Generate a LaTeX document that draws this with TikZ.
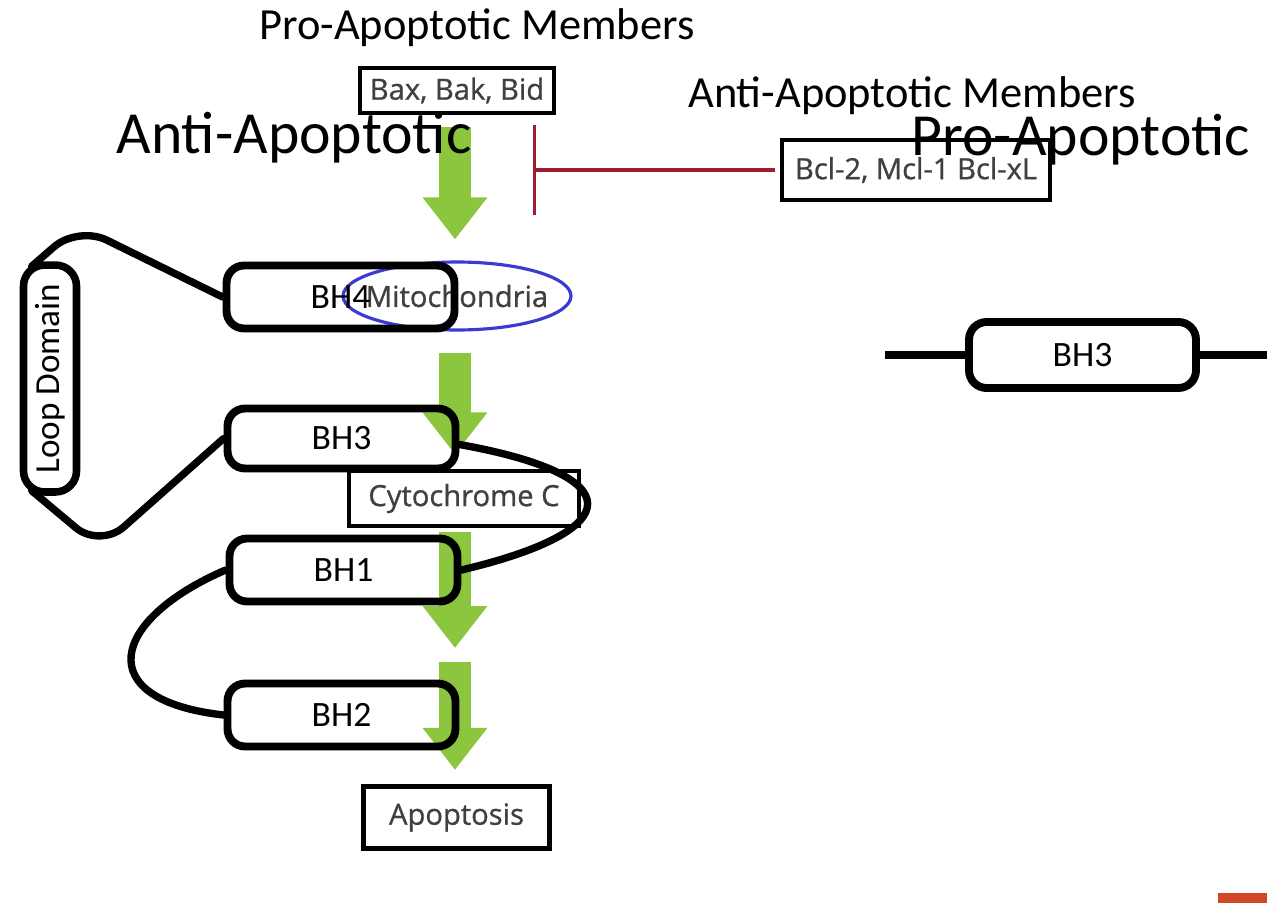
\documentclass[tikz,border=0pt]{standalone}
\usepackage{fontspec}
\setmainfont{Carlito}
\newfontfamily\boxfont[FakeBold=0.9]{Open Sans}
\usetikzlibrary{shapes.geometric,arrows.meta,calc}
\definecolor{leaf}{HTML}{8CC63E}
\definecolor{inhibred}{HTML}{A21C30}
\definecolor{mitoblue}{HTML}{3B3BD1}
\definecolor{boxtext}{HTML}{404040}
\definecolor{cornerorange}{HTML}{D24726}
\begin{document}
\begin{tikzpicture}[x=0.02cm,y=-0.02cm,
  bhbox/.style={draw, line width=4.5pt, rounded corners=10pt, minimum width=4.56cm, minimum height=1.26cm, inner sep=0pt, font=\fontsize{20.3}{24}\selectfont},
  plainbox/.style={draw, line width=2.4pt, fill=white, inner sep=0pt, text=boxtext, font=\boxfont\fontsize{16.6}{20}\selectfont},
  conn/.style={line width=4.2pt, line cap=round, line join=round},
  garrow/.style={draw=leaf, line width=0.64cm, -{Triangle[width=1.24cm,length=0.84cm]}},
  hdr/.style={inner sep=0pt, font=\fontsize{25.3}{30}\selectfont},
  bighdr/.style={inner sep=0pt, font=\fontsize{34}{40}\selectfont}]
\useasboundingbox (0,0) rectangle (1267,903);
\fill[white] (0,0) rectangle (1267,903);

% flow boxes
\node[plainbox, minimum width=3.88cm, minimum height=0.9cm] (bax) at (457,90.5) {Bax, Bak, Bid};
\node[plainbox, minimum width=5.36cm, minimum height=1.2cm] (bcl) at (916,170) {Bcl-2, Mcl-1 Bcl-xL};
\node[ellipse, draw=mitoblue, line width=1.8pt, minimum width=4.56cm, minimum height=1.36cm, inner sep=0pt,
      label={[text=boxtext, font=\boxfont\fontsize{16.6}{20}\selectfont, inner sep=0pt]center:Mitochondria}] (mito) at (457,296) {};
\node[plainbox, line width=1.8pt, minimum width=4.6cm, minimum height=1.1cm] (cyto) at (464,498.5) {Cytochrome C};
\node[plainbox, minimum width=3.72cm, minimum height=1.24cm] (apop) at (456.5,817.5) {Apoptosis};

% green arrows
\coordinate (spine) at (455,0);
\coordinate (a3tip) at (455,648);
\coordinate (a4top) at (455,662);
\draw[garrow, shorten <=0.24cm, shorten >=0.42cm] (bax.south -| spine) -- (mito.north -| spine);
\draw[garrow, shorten <=0.42cm, shorten >=0.3cm] (mito.south -| spine) -- (cyto.north -| spine);
\draw[garrow, shorten <=0.08cm] (cyto.south -| spine) -- (a3tip);
\draw[garrow, shorten >=0.29cm] (a4top) -- (apop.north -| spine);

% inhibition
\coordinate (barpt) at (533,170);
\draw[inhibred, line width=1.8pt, shorten <=0.1cm, -{Bar[width=1.8cm]}] (bcl.west) -- (barpt);

% BH domains
\node[bhbox] (bh4) at (340.5,297) {BH4};
\node[bhbox, minimum height=1.2cm] (bh3) at (341.5,438.5) {BH3};
\node[bhbox] (bh1) at (343.5,570) {BH1};
\node[bhbox] (bh2) at (341.5,715) {BH2};
\node[draw, line width=4.3pt, rounded corners=12pt, minimum width=1.06cm, minimum height=4.54cm, inner sep=0pt, font=\fontsize{20}{24}\selectfont] (loop) at (50,378.5) {\rotatebox{90}{Loop Domain}};

\draw[conn, rounded corners=18pt] (bh4.west) -- (78,226) -- ([xshift=0.24cm,yshift=-0.1cm]loop.north west);
\draw[conn, rounded corners=18pt] ([xshift=0.24cm,yshift=0.1cm]loop.south west) -- (100,548) -- (bh3.west);
\draw[conn] ([yshift=-0.12cm]bh3.east) .. controls (630,475) and (630,530) .. (bh1.east);
\draw[conn] (bh1.west) .. controls (110,620) and (90,700) .. (bh2.west);

% right BH3
\node[bhbox, minimum width=4.54cm, minimum height=1.32cm] (rbh3) at (1082.5,355) {BH3};
\coordinate (lstub) at (885,355);
\coordinate (rstub) at (1267,355);
\draw[line width=4.5pt] (lstub) -- (rbh3.west);
\draw[line width=4.5pt] (rbh3.east) -- (rstub);

% headings
\node[hdr] (prohdr) at (477,28) {Pro-Apoptotic Members};
\node[hdr] (antihdr) at (912,96) {Anti-Apoptotic Members};
\node[bighdr] (antibig) at (294,138) {Anti-Apoptotic};
\node[bighdr] (probig) at (1081,140) {Pro-Apoptotic};

% corner mark
\fill[cornerorange] (1218,893) rectangle (1267,903);
\end{tikzpicture}
\end{document}
